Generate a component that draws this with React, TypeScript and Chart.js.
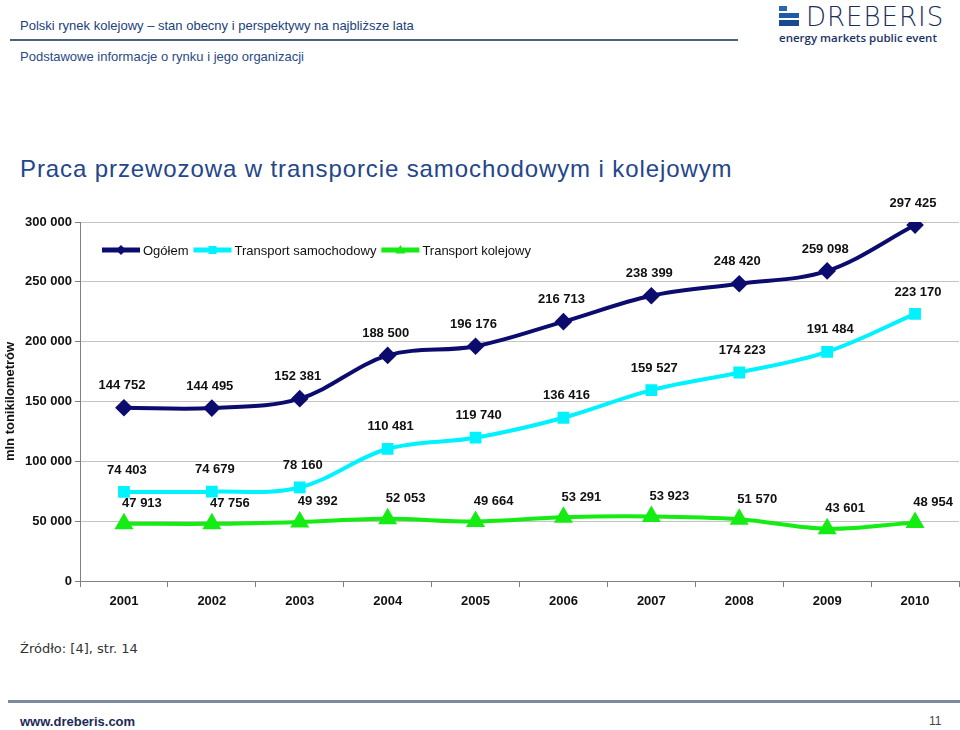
import React, { useEffect, useRef } from "react";
import { Chart, registerables } from "chart.js";

Chart.register(...registerables);

const years = ["2001", "2002", "2003", "2004", "2005", "2006", "2007", "2008", "2009", "2010"];
const ogolem = [144752, 144495, 152381, 188500, 196176, 216713, 238399, 248420, 259098, 297425];
const samochodowy = [74403, 74679, 78160, 110481, 119740, 136416, 159527, 174223, 191484, 223170];
const kolejowy = [47913, 47756, 49392, 52053, 49664, 53291, 53923, 51570, 43601, 48954];
const seriesNames = ["Ogółem", "Transport samochodowy", "Transport kolejowy"];
const yTicksMax = 300000;
const yStep = 50000;

const NAVY = "#0c0c6e";
const CYAN = "#00f2ff";
const GREEN = "#14ec14";

const fmt = (v: number) => {
  const s = String(Math.round(v));
  return s.replace(/\B(?=(\d{3})+(?!\d))/g, " ");
};

function drawMarker(ctx: CanvasRenderingContext2D, style: string, x: number, y: number, r: number, color: string) {
  ctx.save();
  ctx.fillStyle = color;
  ctx.beginPath();
  if (style === "rectRot") {
    ctx.moveTo(x, y - r);
    ctx.lineTo(x + r, y);
    ctx.lineTo(x, y + r);
    ctx.lineTo(x - r, y);
  } else if (style === "rect") {
    ctx.rect(x - r * 0.8, y - r * 0.8, r * 1.6, r * 1.6);
  } else {
    ctx.moveTo(x, y - r);
    ctx.lineTo(x + r, y + r * 0.7);
    ctx.lineTo(x - r, y + r * 0.7);
  }
  ctx.closePath();
  ctx.fill();
  ctx.restore();
}

const labelOffsets = [
  { dx: -2, dy: -22 },
  { dx: 3, dy: -22 },
  { dx: 18, dy: -20 },
];

const labelsPlugin = {
  id: "valueLabels",
  afterDatasetsDraw(chart: any) {
    const ctx = chart.ctx as CanvasRenderingContext2D;
    ctx.save();
    ctx.font = "bold 13px 'Liberation Sans', Arial, sans-serif";
    ctx.fillStyle = "#111";
    ctx.textAlign = "center";
    ctx.textBaseline = "middle";
    chart.data.datasets.forEach((ds: any, i: number) => {
      const meta = chart.getDatasetMeta(i);
      const off = labelOffsets[i];
      meta.data.forEach((pt: any, j: number) => {
        ctx.fillText(fmt(ds.data[j]), pt.x + off.dx, pt.y + off.dy);
      });
    });
    ctx.restore();
  },
};

const CANVAS_TOP = 180;

const legendPlugin = {
  id: "customLegend",
  afterDraw(chart: any) {
    const ctx = chart.ctx as CanvasRenderingContext2D;
    const y = 250 - CANVAS_TOP;
    let x = 102;
    ctx.save();
    ctx.font = "13px 'Liberation Sans', Arial, sans-serif";
    ctx.textBaseline = "middle";
    ctx.textAlign = "left";
    chart.data.datasets.forEach((ds: any) => {
      ctx.strokeStyle = ds.borderColor;
      ctx.lineWidth = 5;
      ctx.beginPath();
      ctx.moveTo(x, y);
      ctx.lineTo(x + 38, y);
      ctx.stroke();
      drawMarker(ctx, ds.pointStyle, x + 19, y, 5, ds.borderColor);
      ctx.fillStyle = "#111";
      ctx.fillText(ds.label, x + 41, y + 1);
      x += 41 + ctx.measureText(ds.label).width + 5;
    });
    ctx.restore();
  },
};

function LineChart() {
  const ref = useRef<HTMLCanvasElement | null>(null);
  useEffect(() => {
    if (!ref.current) return;
    const chart = new Chart(ref.current, {
      type: "line",
      data: {
        labels: years,
        datasets: [
          { label: seriesNames[0], data: ogolem, borderColor: NAVY, backgroundColor: NAVY, borderWidth: 4, pointStyle: "rectRot", pointRadius: 6, tension: 0.35 },
          { label: seriesNames[1], data: samochodowy, borderColor: CYAN, backgroundColor: CYAN, borderWidth: 4, pointStyle: "rect", pointRadius: 5.5, tension: 0.35 },
          { label: seriesNames[2], data: kolejowy, borderColor: GREEN, backgroundColor: GREEN, borderWidth: 4, pointStyle: "triangle", pointRadius: 7, tension: 0.35 },
        ],
      },
      options: {
        responsive: false,
        animation: false,
        layout: { autoPadding: false, padding: { top: 222 - CANVAS_TOP, right: 1, left: 0, bottom: 0 } },
        plugins: { legend: { display: false }, tooltip: { enabled: false } },
        scales: {
          x: {
            offset: true,
            afterFit: (s: any) => {
              s.height = 620 - 581;
              s.paddingLeft = 0;
              s.paddingRight = 0;
            },
            grid: { offset: true, drawOnChartArea: false, drawTicks: true, tickLength: 6, color: "#808080" },
            border: { color: "#808080", width: 1 },
            ticks: { color: "#111", font: { family: "'Liberation Sans', Arial, sans-serif", size: 13, weight: "bold" }, padding: 7, maxRotation: 0 },
          },
          y: {
            min: 0,
            max: yTicksMax,
            afterFit: (s: any) => {
              s.width = 80;
            },
            grid: { color: "#c4c4c4", tickLength: 5, tickColor: "#808080" },
            border: { color: "#808080", width: 1 },
            ticks: { stepSize: yStep, color: "#111", padding: 3, font: { family: "'Liberation Sans', Arial, sans-serif", size: 13, weight: "bold" }, callback: (v: any) => fmt(Number(v)) },
            title: { display: true, text: "mln tonikilometrów", color: "#111", padding: { top: 3, bottom: 0 }, font: { family: "'Liberation Sans', Arial, sans-serif", size: 13, weight: "bold" } },
          },
        },
      },
      plugins: [labelsPlugin, legendPlugin],
    } as any);
    return () => chart.destroy();
  }, []);
  return (
    <canvas ref={ref} width={960} height={620 - CANVAS_TOP} style={{ position: "absolute", left: 0, top: CANVAS_TOP, width: 960, height: 620 - CANVAS_TOP }} />
  );
}

export default function App() {
  const sans = "'Liberation Sans', Arial, sans-serif";
  return (
    <div style={{ position: "absolute", left: 0, top: 0, width: 960, height: 730, background: "#fff", overflow: "hidden", fontFamily: sans }}>
      <div style={{ position: "absolute", left: 20, top: 18, fontSize: 13, color: "#213f7c", whiteSpace: "nowrap" }}>
        Polski rynek kolejowy – stan obecny i perspektywy na najbliższe lata
      </div>
      <div style={{ position: "absolute", left: 10, top: 39, width: 728, height: 2, background: "#4c6080" }} />
      <div style={{ position: "absolute", left: 20, top: 49, fontSize: 13, color: "#2a4a86", whiteSpace: "nowrap" }}>
        Podstawowe informacje o rynku i jego organizacji
      </div>
      {/* logo */}
      <div style={{ position: "absolute", left: 779, top: 6, width: 20, height: 20 }}>
        <div style={{ position: "absolute", left: 0, top: 0, width: 8, height: 5, background: "#2b67b0" }} />
        <div style={{ position: "absolute", left: 0, top: 7, width: 20, height: 5, background: "#1e5aa6" }} />
        <div style={{ position: "absolute", left: 0, top: 14, width: 20, height: 6, background: "#174a90" }} />
      </div>
      <div style={{ position: "absolute", left: 806, top: 2, fontSize: 26, color: "#1b2f5c", letterSpacing: 1, whiteSpace: "nowrap", fontFamily: "'DejaVu Sans', sans-serif", fontWeight: 300 }}>
        DREBERIS
      </div>
      <div style={{ position: "absolute", left: 779, top: 30, fontSize: 11.5, color: "#1b3466", fontWeight: 600, whiteSpace: "nowrap", fontFamily: "'Open Sans', sans-serif" }}>
        energy markets public event
      </div>
      <div style={{ position: "absolute", left: 20, top: 155, fontSize: 24, color: "#24468a", letterSpacing: 0.9, whiteSpace: "nowrap" }}>
        Praca przewozowa w transporcie samochodowym i kolejowym
      </div>
      <LineChart />
      <div style={{ position: "absolute", left: 20, top: 641, fontSize: 13, color: "#333", whiteSpace: "nowrap", fontFamily: "'DejaVu Sans', sans-serif" }}>
        Źródło: [4], str. 14
      </div>
      <div style={{ position: "absolute", left: 8, top: 700, width: 952, height: 3, background: "#7a8c9e" }} />
      <div style={{ position: "absolute", left: 20, top: 714, fontSize: 13, color: "#1c2a58", fontWeight: "bold", whiteSpace: "nowrap" }}>
        www.dreberis.com
      </div>
      <div style={{ position: "absolute", left: 929, top: 714, fontSize: 12, color: "#444", whiteSpace: "nowrap" }}>
        11
      </div>
    </div>
  );
}
